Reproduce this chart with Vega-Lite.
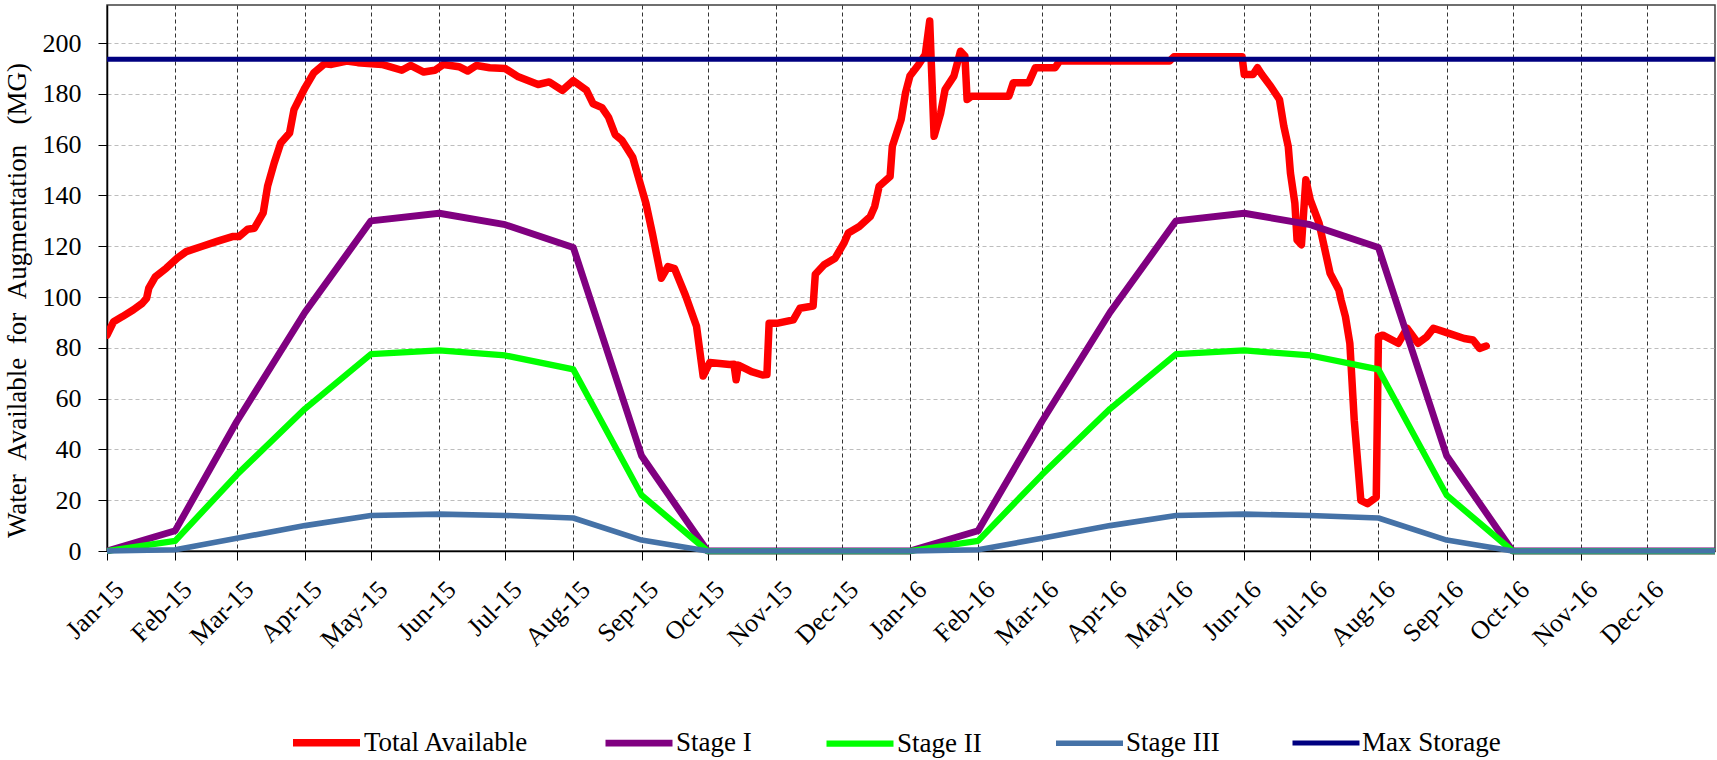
{
  "$schema": "https://vega.github.io/schema/vega-lite/v6.json",
  "width": 1608,
  "height": 546,
  "autosize": {"type": "none"},
  "padding": {"left": 107, "top": 5, "right": 2, "bottom": 209},
  "background": "white",
  "config": {
    "font": "Liberation Serif",
    "view": {"stroke": "#404040", "strokeWidth": 1.5},
    "legend": {
      "orient": "none",
      "legendX": 182,
      "legendY": 700,
      "direction": "horizontal",
      "symbolType": "stroke",
      "symbolSize": 4489,
      "labelFontSize": 27,
      "labelFont": "Liberation Serif",
      "labelColor": "#000000",
      "labelLimit": 0,
      "labelOffset": 0,
      "columnPadding": 62,
      "padding": 0
    }
  },
  "data": {
    "values": [
      {"series":"Total Available","date":"2015-01-01","value":85},
      {"series":"Total Available","date":"2015-01-04","value":90.3},
      {"series":"Total Available","date":"2015-01-08","value":92.3},
      {"series":"Total Available","date":"2015-01-13","value":95},
      {"series":"Total Available","date":"2015-01-17","value":97.5},
      {"series":"Total Available","date":"2015-01-19","value":99.5},
      {"series":"Total Available","date":"2015-01-20","value":103.5},
      {"series":"Total Available","date":"2015-01-23","value":108},
      {"series":"Total Available","date":"2015-01-28","value":111.4},
      {"series":"Total Available","date":"2015-02-02","value":115.4},
      {"series":"Total Available","date":"2015-02-06","value":117.9},
      {"series":"Total Available","date":"2015-02-13","value":119.9},
      {"series":"Total Available","date":"2015-02-20","value":121.9},
      {"series":"Total Available","date":"2015-02-27","value":123.8},
      {"series":"Total Available","date":"2015-03-02","value":123.8},
      {"series":"Total Available","date":"2015-03-06","value":126.7},
      {"series":"Total Available","date":"2015-03-09","value":127.1},
      {"series":"Total Available","date":"2015-03-13","value":133.1},
      {"series":"Total Available","date":"2015-03-15","value":143.6},
      {"series":"Total Available","date":"2015-03-18","value":152.8},
      {"series":"Total Available","date":"2015-03-21","value":160.7},
      {"series":"Total Available","date":"2015-03-25","value":164.6},
      {"series":"Total Available","date":"2015-03-27","value":173.8},
      {"series":"Total Available","date":"2015-04-01","value":182.4},
      {"series":"Total Available","date":"2015-04-05","value":188.3},
      {"series":"Total Available","date":"2015-04-10","value":191.9},
      {"series":"Total Available","date":"2015-04-13","value":191.6},
      {"series":"Total Available","date":"2015-04-20","value":192.9},
      {"series":"Total Available","date":"2015-04-25","value":192.3},
      {"series":"Total Available","date":"2015-05-06","value":191.6},
      {"series":"Total Available","date":"2015-05-15","value":189.3},
      {"series":"Total Available","date":"2015-05-19","value":191.2},
      {"series":"Total Available","date":"2015-05-25","value":188.6},
      {"series":"Total Available","date":"2015-05-30","value":189.3},
      {"series":"Total Available","date":"2015-06-03","value":191.6},
      {"series":"Total Available","date":"2015-06-10","value":190.7},
      {"series":"Total Available","date":"2015-06-14","value":189},
      {"series":"Total Available","date":"2015-06-18","value":191.2},
      {"series":"Total Available","date":"2015-06-24","value":190.3},
      {"series":"Total Available","date":"2015-07-01","value":190},
      {"series":"Total Available","date":"2015-07-07","value":186.7},
      {"series":"Total Available","date":"2015-07-16","value":183.7},
      {"series":"Total Available","date":"2015-07-21","value":184.7},
      {"series":"Total Available","date":"2015-07-27","value":181.4},
      {"series":"Total Available","date":"2015-08-01","value":185.2},
      {"series":"Total Available","date":"2015-08-07","value":181.4},
      {"series":"Total Available","date":"2015-08-10","value":176.1},
      {"series":"Total Available","date":"2015-08-14","value":174.6},
      {"series":"Total Available","date":"2015-08-17","value":170.8},
      {"series":"Total Available","date":"2015-08-20","value":164},
      {"series":"Total Available","date":"2015-08-23","value":161.8},
      {"series":"Total Available","date":"2015-08-28","value":155},
      {"series":"Total Available","date":"2015-08-31","value":145.9},
      {"series":"Total Available","date":"2015-09-03","value":136.9},
      {"series":"Total Available","date":"2015-09-06","value":124.8},
      {"series":"Total Available","date":"2015-09-10","value":107.4},
      {"series":"Total Available","date":"2015-09-13","value":112},
      {"series":"Total Available","date":"2015-09-16","value":111.2},
      {"series":"Total Available","date":"2015-09-21","value":100.6},
      {"series":"Total Available","date":"2015-09-26","value":88.5},
      {"series":"Total Available","date":"2015-09-29","value":68.9},
      {"series":"Total Available","date":"2015-10-02","value":74.2},
      {"series":"Total Available","date":"2015-10-11","value":73.4},
      {"series":"Total Available","date":"2015-10-13","value":73.5},
      {"series":"Total Available","date":"2015-10-14","value":67.4},
      {"series":"Total Available","date":"2015-10-15","value":73.2},
      {"series":"Total Available","date":"2015-10-21","value":70.6},
      {"series":"Total Available","date":"2015-10-26","value":69.3},
      {"series":"Total Available","date":"2015-10-28","value":69.5},
      {"series":"Total Available","date":"2015-10-29","value":89.7},
      {"series":"Total Available","date":"2015-11-02","value":89.7},
      {"series":"Total Available","date":"2015-11-09","value":91},
      {"series":"Total Available","date":"2015-11-12","value":95.6},
      {"series":"Total Available","date":"2015-11-18","value":96.5},
      {"series":"Total Available","date":"2015-11-19","value":109},
      {"series":"Total Available","date":"2015-11-23","value":112.7},
      {"series":"Total Available","date":"2015-11-28","value":115.3},
      {"series":"Total Available","date":"2015-12-02","value":121.2},
      {"series":"Total Available","date":"2015-12-04","value":125.2},
      {"series":"Total Available","date":"2015-12-09","value":127.8},
      {"series":"Total Available","date":"2015-12-14","value":131.7},
      {"series":"Total Available","date":"2015-12-16","value":135.7},
      {"series":"Total Available","date":"2015-12-18","value":143.6},
      {"series":"Total Available","date":"2015-12-23","value":147.5},
      {"series":"Total Available","date":"2015-12-24","value":159.3},
      {"series":"Total Available","date":"2015-12-28","value":169.9},
      {"series":"Total Available","date":"2015-12-30","value":180.4},
      {"series":"Total Available","date":"2016-01-01","value":187},
      {"series":"Total Available","date":"2016-01-05","value":191.6},
      {"series":"Total Available","date":"2016-01-08","value":195.5},
      {"series":"Total Available","date":"2016-01-10","value":208.7},
      {"series":"Total Available","date":"2016-01-12","value":163.3},
      {"series":"Total Available","date":"2016-01-15","value":172.5},
      {"series":"Total Available","date":"2016-01-17","value":181.7},
      {"series":"Total Available","date":"2016-01-21","value":187},
      {"series":"Total Available","date":"2016-01-24","value":196.8},
      {"series":"Total Available","date":"2016-01-26","value":194.9},
      {"series":"Total Available","date":"2016-01-27","value":177.8},
      {"series":"Total Available","date":"2016-01-29","value":179.1},
      {"series":"Total Available","date":"2016-02-15","value":179.1},
      {"series":"Total Available","date":"2016-02-17","value":184.4},
      {"series":"Total Available","date":"2016-02-24","value":184.4},
      {"series":"Total Available","date":"2016-02-27","value":190.3},
      {"series":"Total Available","date":"2016-03-07","value":190.3},
      {"series":"Total Available","date":"2016-03-09","value":192.9},
      {"series":"Total Available","date":"2016-04-28","value":192.9},
      {"series":"Total Available","date":"2016-04-30","value":194.6},
      {"series":"Total Available","date":"2016-05-31","value":194.6},
      {"series":"Total Available","date":"2016-06-01","value":187.6},
      {"series":"Total Available","date":"2016-06-05","value":187.6},
      {"series":"Total Available","date":"2016-06-07","value":190.3},
      {"series":"Total Available","date":"2016-06-09","value":187.6},
      {"series":"Total Available","date":"2016-06-13","value":183},
      {"series":"Total Available","date":"2016-06-17","value":177.8},
      {"series":"Total Available","date":"2016-06-19","value":167.2},
      {"series":"Total Available","date":"2016-06-21","value":159.3},
      {"series":"Total Available","date":"2016-06-22","value":148.8},
      {"series":"Total Available","date":"2016-06-24","value":137},
      {"series":"Total Available","date":"2016-06-25","value":122.5},
      {"series":"Total Available","date":"2016-06-27","value":120.6},
      {"series":"Total Available","date":"2016-06-29","value":146.2},
      {"series":"Total Available","date":"2016-07-01","value":138.3},
      {"series":"Total Available","date":"2016-07-05","value":129.1},
      {"series":"Total Available","date":"2016-07-08","value":117.3},
      {"series":"Total Available","date":"2016-07-10","value":109.4},
      {"series":"Total Available","date":"2016-07-14","value":102.8},
      {"series":"Total Available","date":"2016-07-15","value":98.9},
      {"series":"Total Available","date":"2016-07-17","value":92.3},
      {"series":"Total Available","date":"2016-07-19","value":81.8},
      {"series":"Total Available","date":"2016-07-21","value":51.5},
      {"series":"Total Available","date":"2016-07-24","value":19.9},
      {"series":"Total Available","date":"2016-07-27","value":18.6},
      {"series":"Total Available","date":"2016-07-31","value":21.2},
      {"series":"Total Available","date":"2016-08-01","value":84.4},
      {"series":"Total Available","date":"2016-08-03","value":85},
      {"series":"Total Available","date":"2016-08-10","value":81.8},
      {"series":"Total Available","date":"2016-08-14","value":87.7},
      {"series":"Total Available","date":"2016-08-19","value":81.8},
      {"series":"Total Available","date":"2016-08-23","value":84.4},
      {"series":"Total Available","date":"2016-08-26","value":87.7},
      {"series":"Total Available","date":"2016-09-02","value":85.7},
      {"series":"Total Available","date":"2016-09-09","value":83.7},
      {"series":"Total Available","date":"2016-09-13","value":83.1},
      {"series":"Total Available","date":"2016-09-16","value":79.8},
      {"series":"Total Available","date":"2016-09-19","value":80.7},

      {"series":"Stage I","date":"2015-01-01","value":0},
      {"series":"Stage I","date":"2015-02-01","value":8},
      {"series":"Stage I","date":"2015-03-01","value":51},
      {"series":"Stage I","date":"2015-04-01","value":94},
      {"series":"Stage I","date":"2015-05-01","value":130},
      {"series":"Stage I","date":"2015-06-01","value":133},
      {"series":"Stage I","date":"2015-07-01","value":128.5},
      {"series":"Stage I","date":"2015-08-01","value":119.5},
      {"series":"Stage I","date":"2015-09-01","value":37.5},
      {"series":"Stage I","date":"2015-10-01","value":0},
      {"series":"Stage I","date":"2015-11-01","value":0},
      {"series":"Stage I","date":"2015-12-01","value":0},
      {"series":"Stage I","date":"2016-01-01","value":0},
      {"series":"Stage I","date":"2016-02-01","value":8},
      {"series":"Stage I","date":"2016-03-01","value":51},
      {"series":"Stage I","date":"2016-04-01","value":94},
      {"series":"Stage I","date":"2016-05-01","value":130},
      {"series":"Stage I","date":"2016-06-01","value":133},
      {"series":"Stage I","date":"2016-07-01","value":128.5},
      {"series":"Stage I","date":"2016-08-01","value":119.5},
      {"series":"Stage I","date":"2016-09-01","value":37.5},
      {"series":"Stage I","date":"2016-10-01","value":0},
      {"series":"Stage I","date":"2016-11-01","value":0},
      {"series":"Stage I","date":"2016-12-01","value":0},
      {"series":"Stage I","date":"2017-01-01","value":0},

      {"series":"Stage II","date":"2015-01-01","value":0},
      {"series":"Stage II","date":"2015-02-01","value":4},
      {"series":"Stage II","date":"2015-03-01","value":30},
      {"series":"Stage II","date":"2015-04-01","value":56},
      {"series":"Stage II","date":"2015-05-01","value":77.5},
      {"series":"Stage II","date":"2015-06-01","value":79},
      {"series":"Stage II","date":"2015-07-01","value":77},
      {"series":"Stage II","date":"2015-08-01","value":71.5},
      {"series":"Stage II","date":"2015-09-01","value":22},
      {"series":"Stage II","date":"2015-10-01","value":0},
      {"series":"Stage II","date":"2015-11-01","value":0},
      {"series":"Stage II","date":"2015-12-01","value":0},
      {"series":"Stage II","date":"2016-01-01","value":0},
      {"series":"Stage II","date":"2016-02-01","value":4},
      {"series":"Stage II","date":"2016-03-01","value":30},
      {"series":"Stage II","date":"2016-04-01","value":56},
      {"series":"Stage II","date":"2016-05-01","value":77.5},
      {"series":"Stage II","date":"2016-06-01","value":79},
      {"series":"Stage II","date":"2016-07-01","value":77},
      {"series":"Stage II","date":"2016-08-01","value":71.5},
      {"series":"Stage II","date":"2016-09-01","value":22},
      {"series":"Stage II","date":"2016-10-01","value":0},
      {"series":"Stage II","date":"2016-11-01","value":0},
      {"series":"Stage II","date":"2016-12-01","value":0},
      {"series":"Stage II","date":"2017-01-01","value":0},

      {"series":"Stage III","date":"2015-01-01","value":0},
      {"series":"Stage III","date":"2015-02-01","value":0.5},
      {"series":"Stage III","date":"2015-03-01","value":5},
      {"series":"Stage III","date":"2015-04-01","value":10},
      {"series":"Stage III","date":"2015-05-01","value":14},
      {"series":"Stage III","date":"2015-06-01","value":14.5},
      {"series":"Stage III","date":"2015-07-01","value":14},
      {"series":"Stage III","date":"2015-08-01","value":13},
      {"series":"Stage III","date":"2015-09-01","value":4.3},
      {"series":"Stage III","date":"2015-10-01","value":0},
      {"series":"Stage III","date":"2015-11-01","value":0},
      {"series":"Stage III","date":"2015-12-01","value":0},
      {"series":"Stage III","date":"2016-01-01","value":0},
      {"series":"Stage III","date":"2016-02-01","value":0.5},
      {"series":"Stage III","date":"2016-03-01","value":5},
      {"series":"Stage III","date":"2016-04-01","value":10},
      {"series":"Stage III","date":"2016-05-01","value":14},
      {"series":"Stage III","date":"2016-06-01","value":14.5},
      {"series":"Stage III","date":"2016-07-01","value":14},
      {"series":"Stage III","date":"2016-08-01","value":13},
      {"series":"Stage III","date":"2016-09-01","value":4.3},
      {"series":"Stage III","date":"2016-10-01","value":0},
      {"series":"Stage III","date":"2016-11-01","value":0},
      {"series":"Stage III","date":"2016-12-01","value":0},
      {"series":"Stage III","date":"2017-01-01","value":0},

      {"series":"Max Storage","date":"2015-01-01","value":193.6},
      {"series":"Max Storage","date":"2017-01-01","value":193.6}
    ]
  },
  "encoding": {
    "x": {
      "field": "date",
      "type": "temporal",
      "scale": {"type": "utc", "domain": [{"year":2015,"month":1,"date":1,"utc":true},{"year":2017,"month":1,"date":1,"utc":true}], "nice": false},
      "axis": {
        "title": null,
        "format": "%b-%y",
        "values": [
          {"year":2015,"month":1,"date":1,"utc":true},{"year":2015,"month":2,"date":1,"utc":true},{"year":2015,"month":3,"date":1,"utc":true},{"year":2015,"month":4,"date":1,"utc":true},
          {"year":2015,"month":5,"date":1,"utc":true},{"year":2015,"month":6,"date":1,"utc":true},{"year":2015,"month":7,"date":1,"utc":true},{"year":2015,"month":8,"date":1,"utc":true},
          {"year":2015,"month":9,"date":1,"utc":true},{"year":2015,"month":10,"date":1,"utc":true},{"year":2015,"month":11,"date":1,"utc":true},{"year":2015,"month":12,"date":1,"utc":true},
          {"year":2016,"month":1,"date":1,"utc":true},{"year":2016,"month":2,"date":1,"utc":true},{"year":2016,"month":3,"date":1,"utc":true},{"year":2016,"month":4,"date":1,"utc":true},
          {"year":2016,"month":5,"date":1,"utc":true},{"year":2016,"month":6,"date":1,"utc":true},{"year":2016,"month":7,"date":1,"utc":true},{"year":2016,"month":8,"date":1,"utc":true},
          {"year":2016,"month":9,"date":1,"utc":true},{"year":2016,"month":10,"date":1,"utc":true},{"year":2016,"month":11,"date":1,"utc":true},{"year":2016,"month":12,"date":1,"utc":true}
        ],
        "labelAngle": -45,
        "labelAlign": "right",
        "labelBaseline": "top",
        "labelFontSize": 26,
        "labelColor": "#000000",
        "labelPadding": 16,
        "labelOffset": 3,
        "labelFlush": false,
        "labelOverlap": false,
        "labelBound": false,
        "tickSize": 9,
        "tickColor": "#000000",
        "tickWidth": 1,
        "domainColor": "#000000",
        "domainWidth": 1.5,
        "grid": true,
        "gridColor": "#333333",
        "gridDash": [4, 3],
        "gridWidth": 1
      }
    },
    "y": {
      "field": "value",
      "type": "quantitative",
      "scale": {"domain": [0, 215], "nice": false},
      "axis": {
        "title": "Water\u00a0\u00a0Available\u00a0\u00a0for\u00a0\u00a0Augmentation\u00a0\u00a0\u00a0(MG)",
        "titleFontSize": 27,
        "titleFontWeight": "normal",
        "titleColor": "#000000",
        "titleX": -90,
        "titleY": 295,
        "titleAngle": -90,
        "titleAlign": "center",
        "titleBaseline": "middle",
        "values": [0, 20, 40, 60, 80, 100, 120, 140, 160, 180, 200],
        "labelFontSize": 26,
        "labelColor": "#000000",
        "labelPadding": 17,
        "tickSize": 9,
        "tickColor": "#000000",
        "domainColor": "#000000",
        "domainWidth": 1.5,
        "grid": true,
        "gridColor": "#bdbdbd",
        "gridDash": [4, 3],
        "gridWidth": 1
      }
    },
    "color": {
      "field": "series",
      "type": "nominal",
      "scale": {
        "domain": ["Total Available", "Stage I", "Stage II", "Stage III", "Max Storage"],
        "range": ["#FF0000", "#800080", "#00FF00", "#4572A7", "#000080"]
      },
      "legend": {"title": null}
    },
    "strokeWidth": {
      "field": "series",
      "type": "nominal",
      "scale": {
        "domain": ["Total Available", "Stage I", "Stage II", "Stage III", "Max Storage"],
        "range": [7.5, 5, 5, 8, 5.5]
      },
      "legend": {"title": null}
    }
  },
  "layer": [
    {"transform": [{"filter": "datum.series === 'Total Available'"}], "mark": {"type": "line", "strokeJoin": "round", "strokeCap": "round", "clip": true}},
    {"transform": [{"filter": "datum.series === 'Stage I'"}], "mark": {"type": "line", "strokeJoin": "round"}},
    {"transform": [{"filter": "datum.series === 'Stage II'"}], "mark": {"type": "line", "strokeJoin": "round"}},
    {"transform": [{"filter": "datum.series === 'Stage III'"}], "mark": {"type": "line", "strokeJoin": "round"}},
    {"transform": [{"filter": "datum.series === 'Max Storage'"}], "mark": {"type": "line"}}
  ]
}
